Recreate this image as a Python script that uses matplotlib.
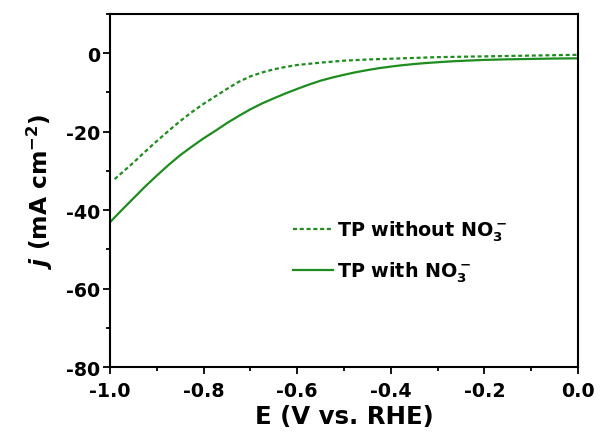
import matplotlib
matplotlib.use("Agg")
import matplotlib.pyplot as plt
from matplotlib.ticker import MultipleLocator, FormatStrFormatter

plt.rcParams['font.family'] = ['DejaVu Sans']
plt.rcParams['font.weight'] = 'bold'
plt.rcParams['axes.unicode_minus'] = False
plt.rcParams['mathtext.fontset'] = 'custom'
plt.rcParams['mathtext.rm'] = 'DejaVu Sans:bold'
plt.rcParams['mathtext.bf'] = 'DejaVu Sans:bold'
plt.rcParams['mathtext.it'] = 'DejaVu Sans:italic:bold'

# LSV curves, potential in V vs. RHE, current density in mA cm^-2
e_without = [-0.99, -0.97, -0.95, -0.925, -0.90, -0.875, -0.85, -0.825, -0.80,
             -0.775, -0.75, -0.725, -0.70, -0.675, -0.65, -0.625, -0.60, -0.55,
             -0.50, -0.45, -0.40, -0.35, -0.30, -0.25, -0.20, -0.15, -0.10,
             -0.05, 0.00]
j_without = [-32.1, -30.0, -27.9, -25.1, -22.4, -19.8, -17.3, -15.0, -12.9,
             -11.0, -9.1, -7.3, -5.9, -4.9, -4.1, -3.5, -3.0, -2.4,
             -1.9, -1.6, -1.4, -1.2, -1.0, -0.9, -0.8, -0.7, -0.6,
             -0.5, -0.4]

e_with = [-1.00, -0.975, -0.95, -0.925, -0.90, -0.875, -0.85, -0.825, -0.80,
          -0.775, -0.75, -0.725, -0.70, -0.675, -0.65, -0.625, -0.60, -0.575,
          -0.55, -0.525, -0.50, -0.475, -0.45, -0.425, -0.40, -0.375, -0.35,
          -0.325, -0.30, -0.275, -0.25, -0.20, -0.15, -0.10, -0.05, 0.00]
j_with = [-43.1, -40.0, -37.0, -34.0, -31.2, -28.5, -26.0, -23.8, -21.7,
          -19.8, -17.8, -16.0, -14.3, -12.8, -11.5, -10.25, -9.1, -8.0,
          -7.0, -6.2, -5.5, -4.85, -4.3, -3.8, -3.4, -3.05, -2.75,
          -2.5, -2.3, -2.1, -1.95, -1.7, -1.55, -1.45, -1.35, -1.3]

labels = [r'TP without NO$_3^-$', r'TP with NO$_3^-$']
green = '#1e8c1e'

fig = plt.figure(figsize=(6.0, 4.35), dpi=100)
ax = fig.add_axes([0.1833, 0.154, 0.78, 0.8115])

ax.plot(e_without, j_without, color=green, lw=1.6, ls=(0, (1.8, 1.25)),
        label=labels[0])
ax.plot(e_with, j_with, color=green, lw=1.6, label=labels[1])

ax.set_xlim(-1.0, 0.0)
ax.set_ylim(-80, 10)
ax.xaxis.set_major_locator(MultipleLocator(0.2))
ax.xaxis.set_minor_locator(MultipleLocator(0.1))
ax.yaxis.set_major_locator(MultipleLocator(20))
ax.yaxis.set_minor_locator(MultipleLocator(10))
ax.xaxis.set_major_formatter(FormatStrFormatter('%.1f'))
ax.yaxis.set_major_formatter(FormatStrFormatter('%d'))

for s in ax.spines.values():
    s.set_linewidth(1.5)
ax.tick_params(which='major', direction='out', length=5, width=1.3,
               labelsize=13.7)
ax.tick_params(which='minor', direction='out', length=3, width=1.3)
ax.tick_params(axis='x', which='major', pad=5)
ax.tick_params(axis='y', which='major', pad=2)

ax.set_xlabel('E (V vs. RHE)', fontsize=17.6, fontweight='bold', labelpad=3)
ax.set_ylabel(r'$\it{j}$ (mA cm$^{-2}$)', fontsize=16.8, fontweight='bold',
              labelpad=8)

ax.legend(loc='upper left', bbox_to_anchor=(0.39, 0.42), frameon=False,
          fontsize=13.8, handlelength=2.1, handletextpad=0.2,
          labelspacing=0.85, borderpad=0, borderaxespad=0)

fig.savefig('out.png', dpi=100)
